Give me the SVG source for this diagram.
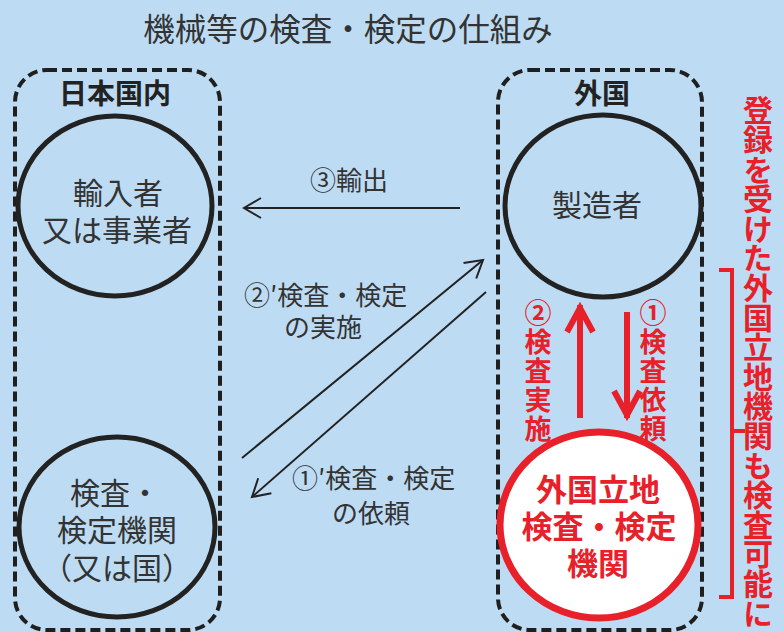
<svg xmlns="http://www.w3.org/2000/svg" width="784" height="632" viewBox="0 0 784 632">
<defs>
<style>
text{font-family:"Noto Sans CJK JP","Noto Sans",sans-serif;}
.title{font-size:31.5px;fill:#333;}
.region{fill:none;stroke:#1f1f1f;stroke-width:4;stroke-dasharray:10 5;}
.rlabel{font-size:28px;font-weight:bold;fill:#222;text-anchor:middle;}
.node{fill:none;stroke:#222;stroke-width:5;}
.ntext{font-size:30px;fill:#333;text-anchor:middle;}
.redNode{fill:#ffffff;stroke:#e8202a;stroke-width:7;}
.rtext{font-size:31px;font-weight:bold;fill:#e8202a;text-anchor:middle;}
.conn{fill:none;stroke:#222;stroke-width:2;}
.redConn{fill:none;stroke:#e8202a;stroke-width:6;}
.clabel{font-size:26px;fill:#333;}
.vred{font-size:27px;font-weight:bold;fill:#e8202a;writing-mode:vertical-rl;letter-spacing:2px;}
.vbig{font-size:30px;font-weight:bold;fill:#e8202a;writing-mode:vertical-rl;letter-spacing:-0.4px;}
</style>
<marker id="arrow" markerUnits="userSpaceOnUse" markerWidth="40" markerHeight="40" refX="0" refY="0" orient="auto" overflow="visible">
<path d="M-17,-10 L0,0 L-17,10" fill="none" stroke="#222" stroke-width="2"/>
</marker>
<marker id="redArrow" markerUnits="userSpaceOnUse" markerWidth="60" markerHeight="60" refX="0" refY="0" orient="auto" overflow="visible">
<path d="M-27,-13 L-3,0 L-27,13" fill="none" stroke="#e8202a" stroke-width="6"/>
</marker>
</defs>
<rect x="0" y="0" width="784" height="632" fill="#bddcf3"/>
<text class="title" x="348" y="41" text-anchor="middle">機械等の検査・検定の仕組み</text>

<g id="region-japan">
<rect class="region" x="15" y="70" width="205" height="560" rx="32" ry="32"/>
<text class="rlabel" x="115" y="104">日本国内</text>
</g>
<g id="region-foreign">
<rect class="region" x="498" y="70" width="204" height="560" rx="32" ry="32"/>
<text class="rlabel" x="602" y="104">外国</text>
</g>

<g id="node-importer">
<ellipse class="node" cx="115" cy="206" rx="97" ry="90"/>
<text class="ntext"><tspan x="118" y="204">輸入者</tspan><tspan x="117" y="241">又は事業者</tspan></text>
</g>
<g id="node-manufacturer">
<ellipse class="node" cx="603" cy="206" rx="98" ry="91"/>
<text class="ntext" x="597" y="216">製造者</text>
</g>
<g id="node-inspection-body">
<ellipse class="node" cx="117" cy="527" rx="98" ry="90"/>
<text class="ntext"><tspan x="115" y="504">検査・</tspan><tspan x="117" y="541">検定機関</tspan><tspan x="117" y="579">（又は国）</tspan></text>
</g>
<g id="node-foreign-body">
<ellipse class="redNode" cx="599" cy="525" rx="99" ry="93"/>
<text class="rtext"><tspan x="598" y="501">外国立地</tspan><tspan x="599" y="538">検査・検定</tspan><tspan x="598" y="575">機関</tspan></text>
</g>

<g id="connectors">
<line class="conn" x1="460" y1="208" x2="244" y2="208" marker-end="url(#arrow)"/>
<line class="conn" x1="242" y1="458" x2="483" y2="260" marker-end="url(#arrow)"/>
<line class="conn" x1="486" y1="292" x2="252" y2="497" marker-end="url(#arrow)"/>
<line class="redConn" x1="580" y1="418" x2="580" y2="305" marker-end="url(#redArrow)"/>
<line class="redConn" x1="627" y1="312" x2="627" y2="418" marker-end="url(#redArrow)"/>
</g>

<g id="labels">
<text class="clabel" x="310" y="190">③輸出</text>
<text class="clabel"><tspan x="244" y="305">②′検査・検定</tspan><tspan x="284" y="337">の実施</tspan></text>
<text class="clabel"><tspan x="292" y="488">①′検査・検定</tspan><tspan x="332" y="523">の依頼</tspan></text>
<text class="vred" x="538" y="299">②検査実施</text>
<text class="vred" x="653" y="299">①検査依頼</text>
</g>

<g id="note">
<path d="M719,270 H732 V597 H719 M732,431 H745" fill="none" stroke="#e8202a" stroke-width="4"/>
<text class="vbig" x="758" y="95">登録を受けた外国立地機関も検査可能に</text>
</g>
</svg>
